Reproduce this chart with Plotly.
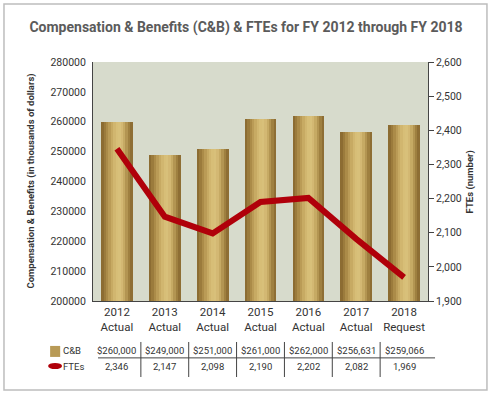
import plotly.graph_objects as go

years = ["2012", "2013", "2014", "2015", "2016", "2017", "2018"]
kinds = ["Actual", "Actual", "Actual", "Actual", "Actual", "Actual", "Request"]
cb_values = [260000, 249000, 251000, 261000, 262000, 256631, 259066]
fte_values = [2346, 2147, 2098, 2190, 2202, 2082, 1969]
left_ticks = [200000, 210000, 220000, 230000, 240000, 250000, 260000, 270000, 280000]
right_ticks = [1900, 2000, 2100, 2200, 2300, 2400, 2500, 2600]

FONT = "Roboto, DejaVu Sans Condensed, sans-serif"
TXT = "#333333"
cats = [f"{y}<br>{k}" for y, k in zip(years, kinds)]

# gold cylinder-like gradient (left dark -> light -> right dark)
grad = ["#8c6c32", "#9b7b3c", "#ab8b48", "#ba9b56", "#c7aa63", "#d1b66f",
        "#d7be77", "#d8c07a", "#d3b873", "#c6aa64", "#b39552", "#9f8040", "#8e6e34"]
bar_w = 0.66
n = len(grad)
sw = bar_w / n

fig = go.Figure()
for i, c in enumerate(grad):
    fig.add_trace(go.Bar(
        x=cats, y=cb_values, width=[sw * 1.08] * len(cats),
        offset=-bar_w / 2 + i * sw, marker=dict(color=c, line=dict(width=0)),
        showlegend=False, hoverinfo="skip" if i else "y", base=0))

fig.add_trace(go.Scatter(
    x=cats, y=fte_values, yaxis="y2", mode="lines",
    line=dict(color="#b0000a", width=6), showlegend=False))

fig.update_layout(
    width=492, height=397,
    margin=dict(l=93, r=64, t=62, b=96),
    paper_bgcolor="white", plot_bgcolor="#d7dbcc",
    barmode="overlay", bargap=0,
    font=dict(family=FONT, size=11, color=TXT),
    title=dict(text="Compensation & Benefits (C&B) & FTEs for FY 2012 through FY 2018",
               x=0.5, xanchor="center", y=1 - 27 / 397, yanchor="middle",
               font=dict(family=FONT, size=14, color="#5b5b5b", weight="bold")),
    xaxis=dict(type="category", showgrid=False, showline=True, linecolor="#444444",
               linewidth=1, ticks="", tickfont=dict(size=11.5, color=TXT)),
    yaxis=dict(range=[200000, 280000], tickvals=left_ticks, showgrid=False,
               showline=True, linecolor="#444444", linewidth=1, ticks="",
               tickfont=dict(size=10.5, color=TXT), tickformat="d", zeroline=False,
               ticklabelstandoff=4),
    yaxis2=dict(range=[1900, 2600], tickvals=right_ticks, overlaying="y", side="right",
                showgrid=False, showline=True, linecolor="#444444", linewidth=1,
                ticks="outside", ticklen=5, tickcolor="#444444", tickformat=",",
                tickfont=dict(size=10.5, color=TXT), zeroline=False),
)

# axis titles
fig.add_annotation(text="<b>Compensation & Benefits (in thousands of dollars)</b>",
                   xref="paper", yref="paper", x=-0.188, y=0.5, textangle=-90,
                   xanchor="center", yanchor="middle",
                   showarrow=False, font=dict(size=9.5, color=TXT))
fig.add_annotation(text="<b>FTEs (number)</b>", xref="paper", yref="paper",
                   x=1.125, y=0.5, textangle=-90, xanchor="center", yanchor="middle",
                   showarrow=False, font=dict(size=9.5, color=TXT))

# data table under the chart
row_cb, row_fte = -0.209, -0.272
for i, (v, f) in enumerate(zip(cb_values, fte_values)):
    fig.add_annotation(text=f"${v:,}", x=i, xref="x", y=row_cb, yref="paper",
                       xanchor="center", yanchor="middle",
                       showarrow=False, font=dict(size=9.5, color=TXT))
    fig.add_annotation(text=f"{f:,}", x=i, xref="x", y=row_fte, yref="paper",
                       xanchor="center", yanchor="middle",
                       showarrow=False, font=dict(size=9.5, color=TXT))
for i in range(len(cats) - 1):
    fig.add_shape(type="line", xref="x", yref="paper", x0=i + 0.5, x1=i + 0.5,
                  y0=-0.1715, y1=-0.318, line=dict(color="#444444", width=1))
fig.add_shape(type="line", xref="paper", yref="paper", x0=0.015, x1=1.021,
              y0=-0.238, y1=-0.238, line=dict(color="#444444", width=1))

# legend keys in table
fig.add_shape(type="rect", xref="paper", yref="paper", x0=-0.128, x1=-0.098,
              y0=-0.234, y1=-0.188, fillcolor="#b89a56", line=dict(width=0))
fig.add_shape(type="circle", xref="paper", yref="paper", x0=-0.134, x1=-0.0925,
              y0=-0.285, y1=-0.259, fillcolor="#b0000a", line=dict(width=0))
fig.add_annotation(text="C&B", xref="paper", yref="paper", x=-0.095, y=row_cb,
                   xanchor="left", yanchor="middle", showarrow=False,
                   font=dict(size=9.5, color=TXT))
fig.add_annotation(text="FTEs", xref="paper", yref="paper", x=-0.095, y=row_fte,
                   xanchor="left", yanchor="middle", showarrow=False,
                   font=dict(size=9.5, color=TXT))

# outer frame
fig.add_shape(type="rect", xref="paper", yref="paper", x0=-0.2657, x1=1.176,
              y0=-0.372, y1=1.243, line=dict(color="#bdbdbd", width=1.5))

fig.write_html("out.html", config={"displayModeBar": False},
               post_script="document.body.style.margin='0';")
